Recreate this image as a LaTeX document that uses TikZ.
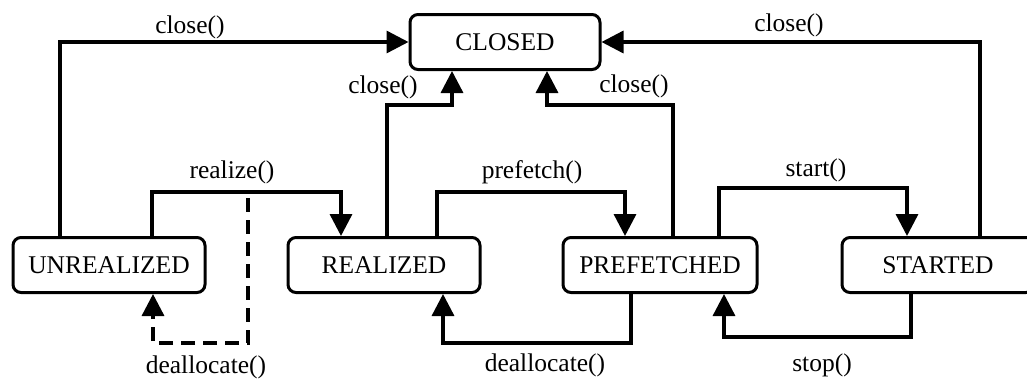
\documentclass[tikz,border=0pt]{standalone}
\usepackage{fontspec}
\setmainfont{Liberation Serif}
\usetikzlibrary{arrows.meta}
\tikzset{
  state/.style={draw, line width=3pt, rounded corners=8pt, minimum height=55pt, inner sep=0pt, font=\fontsize{25.5}{25.5}\selectfont},
  lbl/.style={inner sep=0pt, font=\fontsize{25.5}{25.5}\selectfont},
  conn/.style={line width=3.4pt, -{Triangle[length=22pt,width=22pt]}},
  dconn/.style={conn, dash pattern=on 14pt off 8pt},
}
\begin{document}
\begin{tikzpicture}[x=1pt,y=-1pt]
\useasboundingbox (0,0) rectangle (1027,378);
\clip (0,0) rectangle (1027,378);
% states
\node[state, minimum width=190pt] (closed) at (505,42) {CLOSED};
\node[state, minimum width=192pt] (unreal) at (109,265) {UNREALIZED};
\node[state, minimum width=192pt] (real) at (384,265) {REALIZED};
\node[state, minimum width=194pt] (pref) at (660,265) {PREFETCHED};
\node[state, minimum width=192pt] (start) at (938,265) {STARTED};
% helper coordinates
\coordinate (cU) at (60,0);
\coordinate (cS) at (980,0);
\coordinate (xR) at (387,0);
\coordinate (jR) at (452,105);
\coordinate (xP) at (673,0);
\coordinate (jP) at (547,105);
\coordinate (xU1) at (152,0);
\coordinate (jRz) at (341,192);
\coordinate (xR2) at (437,0);
\coordinate (jPf) at (625,192);
\coordinate (xP2) at (719,0);
\coordinate (jSt) at (907,188);
\coordinate (d1) at (248,198);
\coordinate (d2) at (153,343);
\coordinate (xP3) at (631,0);
\coordinate (jDa) at (443,343);
\coordinate (xS2) at (911,0);
\coordinate (jSp) at (724,337);
% close connectors
\draw[conn] (unreal.north -| cU) |- (closed.west);
\draw[conn] (start.north -| cS) |- (closed.east);
\draw[conn] (real.north -| xR) |- (jR) -- (closed.south -| jR);
\draw[conn] (pref.north -| xP) |- (jP) -- (closed.south -| jP);
% forward transitions
\draw[conn] (unreal.north -| xU1) |- (jRz) -- (real.north -| jRz);
\draw[conn] (real.north -| xR2) |- (jPf) -- (pref.north -| jPf);
\draw[conn] (pref.north -| xP2) |- (jSt) -- (start.north -| jSt);
% backward transitions
\draw[dconn] (d1) |- (d2) -- (unreal.south -| d2);
\draw[conn] (pref.south -| xP3) |- (jDa) -- (real.south -| jDa);
\draw[conn] (start.south -| xS2) |- (jSp) -- (pref.south -| jSp);
% labels
\node[lbl] (l1) at (190,27) {close()};
\node[lbl] (l2) at (383,87) {close()};
\node[lbl] (l3) at (634,86) {close()};
\node[lbl] (l4) at (789,25) {close()};
\node[lbl] (l5) at (232,172) {realize()};
\node[lbl] (l6) at (532,172) {prefetch()};
\node[lbl] (l7) at (816,170) {start()};
\node[lbl] (l8) at (206,367) {deallocate()};
\node[lbl] (l9) at (545,365) {deallocate()};
\node[lbl] (l10) at (822,365) {stop()};
\end{tikzpicture}
\end{document}
